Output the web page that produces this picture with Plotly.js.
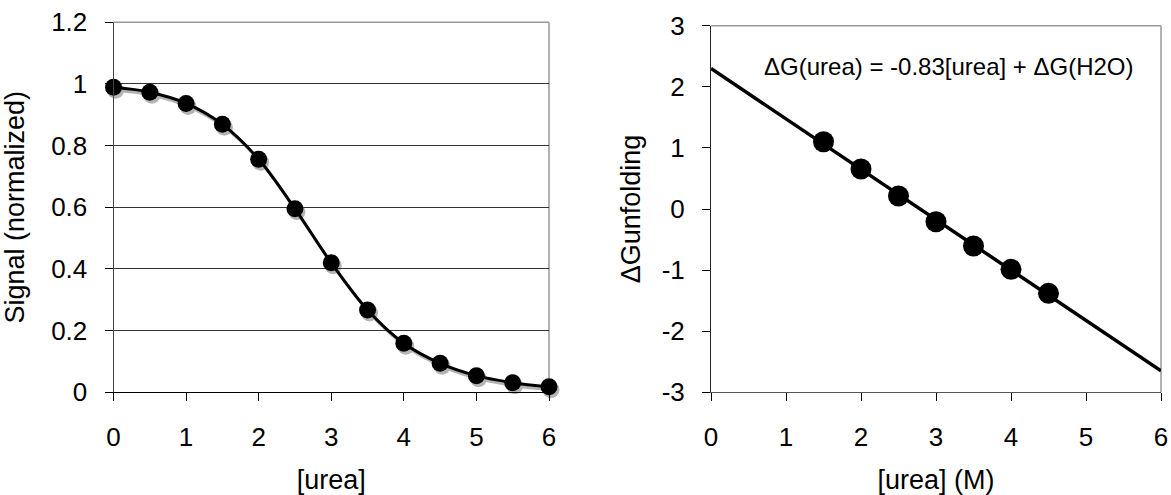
<!DOCTYPE html>
<html>
<head>
<meta charset="utf-8">
<script src="https://cdn.plot.ly/plotly-3.0.1.min.js"></script>
<style>html,body{margin:0;padding:0;background:#fff;}</style>
</head>
<body>
<div id="chart" style="width:1171px;height:495px;"></div>
<script>
// Left panel: denaturation curve
const ureaLeft = [0, 0.5, 1, 1.5, 2, 2.5, 3, 3.5, 4, 4.5, 5, 5.5, 6];
const signal   = [0.989, 0.973, 0.937, 0.869, 0.756, 0.595, 0.420, 0.267, 0.159, 0.094, 0.054, 0.031, 0.018];

// Right panel: free energy vs urea
const ureaRight = [1.5, 2, 2.5, 3, 3.5, 4, 4.5];
const deltaG    = [1.10, 0.655, 0.213, -0.208, -0.606, -0.987, -1.38];
const fitX = [0, 6];
const fitY = [2.3, -2.65];

const leftYTicks = [0, 0.2, 0.4, 0.6, 0.8, 1, 1.2];
const leftYTickText = ['0', '0.2', '0.4', '0.6', '0.8', '1', '1.2'];
const xTicks = [0, 1, 2, 3, 4, 5, 6];
const xTickText = ['0', '1', '2', '3', '4', '5', '6'];
const rightYTicks = [-3, -2, -1, 0, 1, 2, 3];
const rightYTickText = ['-3', '-2', '-1', '0', '1', '2', '3'];

const FONT = 'Liberation Sans, Arial, sans-serif';
const W = 1171, H = 495;
const px = v => v / W;
const py = v => (H - v) / H;

const L = {x0: 113.5, x1: 549, yTop: 22.3, yBot: 392.3};
const R = {x0: 711, x1: 1161, yTop: 25.7, yBot: 392.3};
const SH = {dx: 2, dy: 3};

const traces = [
  // shadow (drawn first, beneath)
  {x: ureaLeft, y: signal, xaxis: 'x', yaxis: 'y', type: 'scatter', mode: 'lines+markers',
   line: {color: '#b4b4b4', width: 3, shape: 'spline', smoothing: 1},
   marker: {color: '#b4b4b4', size: 17}, cliponaxis: false, hoverinfo: 'skip'},
  // main left curve
  {x: ureaLeft, y: signal, xaxis: 'x2', yaxis: 'y2', type: 'scatter', mode: 'lines+markers',
   line: {color: '#000', width: 3, shape: 'spline', smoothing: 1},
   marker: {color: '#000', size: 17}, cliponaxis: false},
  // right fit line
  {x: fitX, y: fitY, xaxis: 'x3', yaxis: 'y3', type: 'scatter', mode: 'lines',
   line: {color: '#000', width: 3.5}, cliponaxis: false},
  // right points
  {x: ureaRight, y: deltaG, xaxis: 'x3', yaxis: 'y3', type: 'scatter', mode: 'markers',
   marker: {color: '#000', size: 21}, cliponaxis: false}
];

const tickCommon = {
  ticks: 'outside', ticklen: 8, tickwidth: 1, tickcolor: '#000',
  showline: true, linewidth: 1, zeroline: false,
  tickfont: {family: FONT, size: 26, color: '#000'}
};

const layout = {
  width: W, height: H,
  margin: {l: 0, r: 0, t: 0, b: 0},
  paper_bgcolor: '#fff', plot_bgcolor: 'rgba(0,0,0,0)',
  showlegend: false,
  font: {family: FONT, color: '#000'},
  // shadow axes (invisible, shifted a few pixels)
  xaxis: {domain: [px(L.x0 + SH.dx), px(L.x1 + SH.dx)], range: [0, 6], visible: false, anchor: 'y'},
  yaxis: {domain: [py(L.yBot + SH.dy), py(L.yTop + SH.dy)], range: [0, 1.2], visible: false, anchor: 'x'},
  // left panel
  xaxis2: Object.assign({}, tickCommon, {
    domain: [px(L.x0), px(L.x1)], range: [0, 6], anchor: 'y2',
    tickvals: xTicks, ticktext: xTickText, linecolor: '#000', showgrid: false,
    ticklabelstandoff: 13,
    title: {text: '[urea]', font: {family: FONT, size: 27, color: '#000'}, standoff: 20}
  }),
  yaxis2: Object.assign({}, tickCommon, {
    domain: [py(L.yBot), py(L.yTop)], range: [0, 1.2], anchor: 'x2',
    tickvals: leftYTicks, ticktext: leftYTickText, linecolor: '#444',
    showgrid: true, gridcolor: '#333', gridwidth: 1,
    ticklabelstandoff: 12,
    title: {text: 'Signal (normalized)', font: {family: FONT, size: 27, color: '#000'}, standoff: 18}
  }),
  // right panel
  xaxis3: Object.assign({}, tickCommon, {
    domain: [px(R.x0), px(R.x1)], range: [0, 6], anchor: 'y3',
    tickvals: xTicks, ticktext: xTickText, linecolor: '#555', showgrid: false,
    ticklabelstandoff: 13,
    title: {text: '[urea] (M)', font: {family: FONT, size: 27, color: '#000'}, standoff: 20}
  }),
  yaxis3: Object.assign({}, tickCommon, {
    domain: [py(R.yBot), py(R.yTop)], range: [-3, 3], anchor: 'x3',
    tickvals: rightYTicks, ticktext: rightYTickText, linecolor: '#222', showgrid: false,
    ticklabelstandoff: 12,
    title: {text: '\u0394Gunfolding', font: {family: FONT, size: 27, color: '#000'}, standoff: 13}
  }),
  shapes: [
    {type: 'line', xref: 'x2 domain', yref: 'y2 domain', x0: 0, x1: 1, y0: 1, y1: 1, line: {color: '#999', width: 1.5}, layer: 'above'},
    {type: 'line', xref: 'x2 domain', yref: 'y2 domain', x0: 1, x1: 1, y0: 0, y1: 1, line: {color: '#999', width: 1.5}, layer: 'below'},
    {type: 'line', xref: 'x3 domain', yref: 'y3 domain', x0: 0, x1: 1, y0: 1, y1: 1, line: {color: '#999', width: 1.5}, layer: 'below'},
    {type: 'line', xref: 'x3 domain', yref: 'y3 domain', x0: 1, x1: 1, y0: 0, y1: 1, line: {color: '#999', width: 1.5}, layer: 'below'}
  ],
  annotations: [
    {xref: 'x3', yref: 'y3', x: 3.17, y: 2.33, xanchor: 'center', yanchor: 'middle', showarrow: false,
     text: '\u0394G(urea) = -0.83[urea] + \u0394G(H2O)', font: {family: FONT, size: 24, color: '#000'}}
  ]
};

Plotly.newPlot('chart', traces, layout, {displayModeBar: false, staticPlot: true});
</script>
</body>
</html>
